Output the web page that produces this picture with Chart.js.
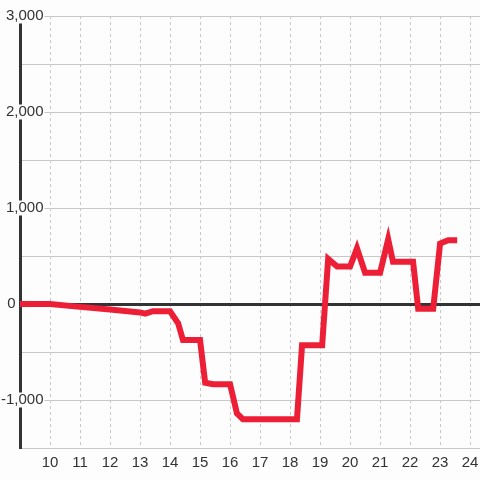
<!DOCTYPE html>
<html>
<head>
<meta charset="utf-8">
<script src="https://cdn.jsdelivr.net/npm/chart.js@4/dist/chart.umd.min.js"></script>
<style>
  html, body { margin: 0; padding: 0; background: #fcfdfc; }
  #wrap { width: 480px; height: 480px; }
</style>
</head>
<body>
<div id="wrap"><canvas id="myChart" width="480" height="480"></canvas></div>
<script>
"use strict";

// hour of day and value at each corner of the line
const hours = [9, 10, 11, 12, 13, 13.17, 13.43, 14, 14.27, 14.43, 15, 15.17, 15.43, 16, 16.23, 16.43,
  18.23, 18.4, 19.07, 19.27, 19.57, 20, 20.23, 20.5, 21, 21.27, 21.43, 22.1, 22.27, 22.77, 23, 23.27, 23.57];
const values = [0, 0, -30, -58, -88, -100, -75, -75, -200, -375, -375, -820, -835, -835, -1140, -1200,
  -1200, -430, -430, 470, 390, 390, 580, 325, 325, 675, 440, 440, -50, -50, 630, 665, 665];

const xTicks = [10, 11, 12, 13, 14, 15, 16, 17, 18, 19, 20, 21, 22, 23, 24];
const yLabelled = [-1000, 0, 1000, 2000, 3000];

const bg = '#fcfdfc';
const fontFamily = "'Liberation Sans', Arial, sans-serif";

const ctx = document.getElementById('myChart').getContext('2d');
new Chart(ctx, {
  type: 'line',
  data: {
    datasets: [{
      data: hours.map((h, i) => ({ x: h, y: values[i] })),
      borderColor: '#ed1f36',
      borderWidth: 6,
      pointRadius: 0,
      tension: 0,
      fill: false
    }]
  },
  options: {
    responsive: false,
    animation: false,
    layout: { padding: { left: 20, top: 16, right: 0, bottom: 2 } },
    plugins: { legend: { display: false }, tooltip: { enabled: false } },
    scales: {
      x: {
        type: 'linear',
        min: 9,
        max: 24.33,
        afterBuildTicks: scale => { scale.ticks = xTicks.map(v => ({ value: v })); },
        afterFit: scale => { scale.paddingLeft = 0; scale.paddingRight = 0; },
        grid: { color: '#c8c8c8', lineWidth: 1, drawTicks: false },
        border: { display: false, dash: [3, 3] },
        ticks: {
          color: '#333',
          font: { family: fontFamily, size: 15 },
          padding: 6,
          maxRotation: 0,
          callback: v => String(v)
        }
      },
      y: {
        min: -1500,
        max: 3000,
        afterFit: scale => { scale.width = 0; },
        grid: {
          drawTicks: false,
          color: c => c.tick && c.tick.value === 0 ? '#333' : '#c8c8c8',
          lineWidth: c => c.tick && c.tick.value === 0 ? 3 : 1
        },
        border: { display: true, color: '#333', width: 3 },
        ticks: {
          stepSize: 500,
          mirror: true,
          crossAlign: 'far',
          padding: -19,
          color: '#333',
          font: { family: fontFamily, size: 15, lineHeight: 1 },
          showLabelBackdrop: c => yLabelled.includes(c.tick.value) && c.tick.value !== 0,
          backdropColor: bg,
          backdropPadding: { left: 1, right: 1, top: 0, bottom: 0 },
          callback: v => {
            if (!yLabelled.includes(v)) return '';
            if (v === 0) return '0\u2007\u2007\u2007\u2009';
            return v.toLocaleString('en-US');
          }
        }
      }
    }
  }
});
</script>
</body>
</html>
